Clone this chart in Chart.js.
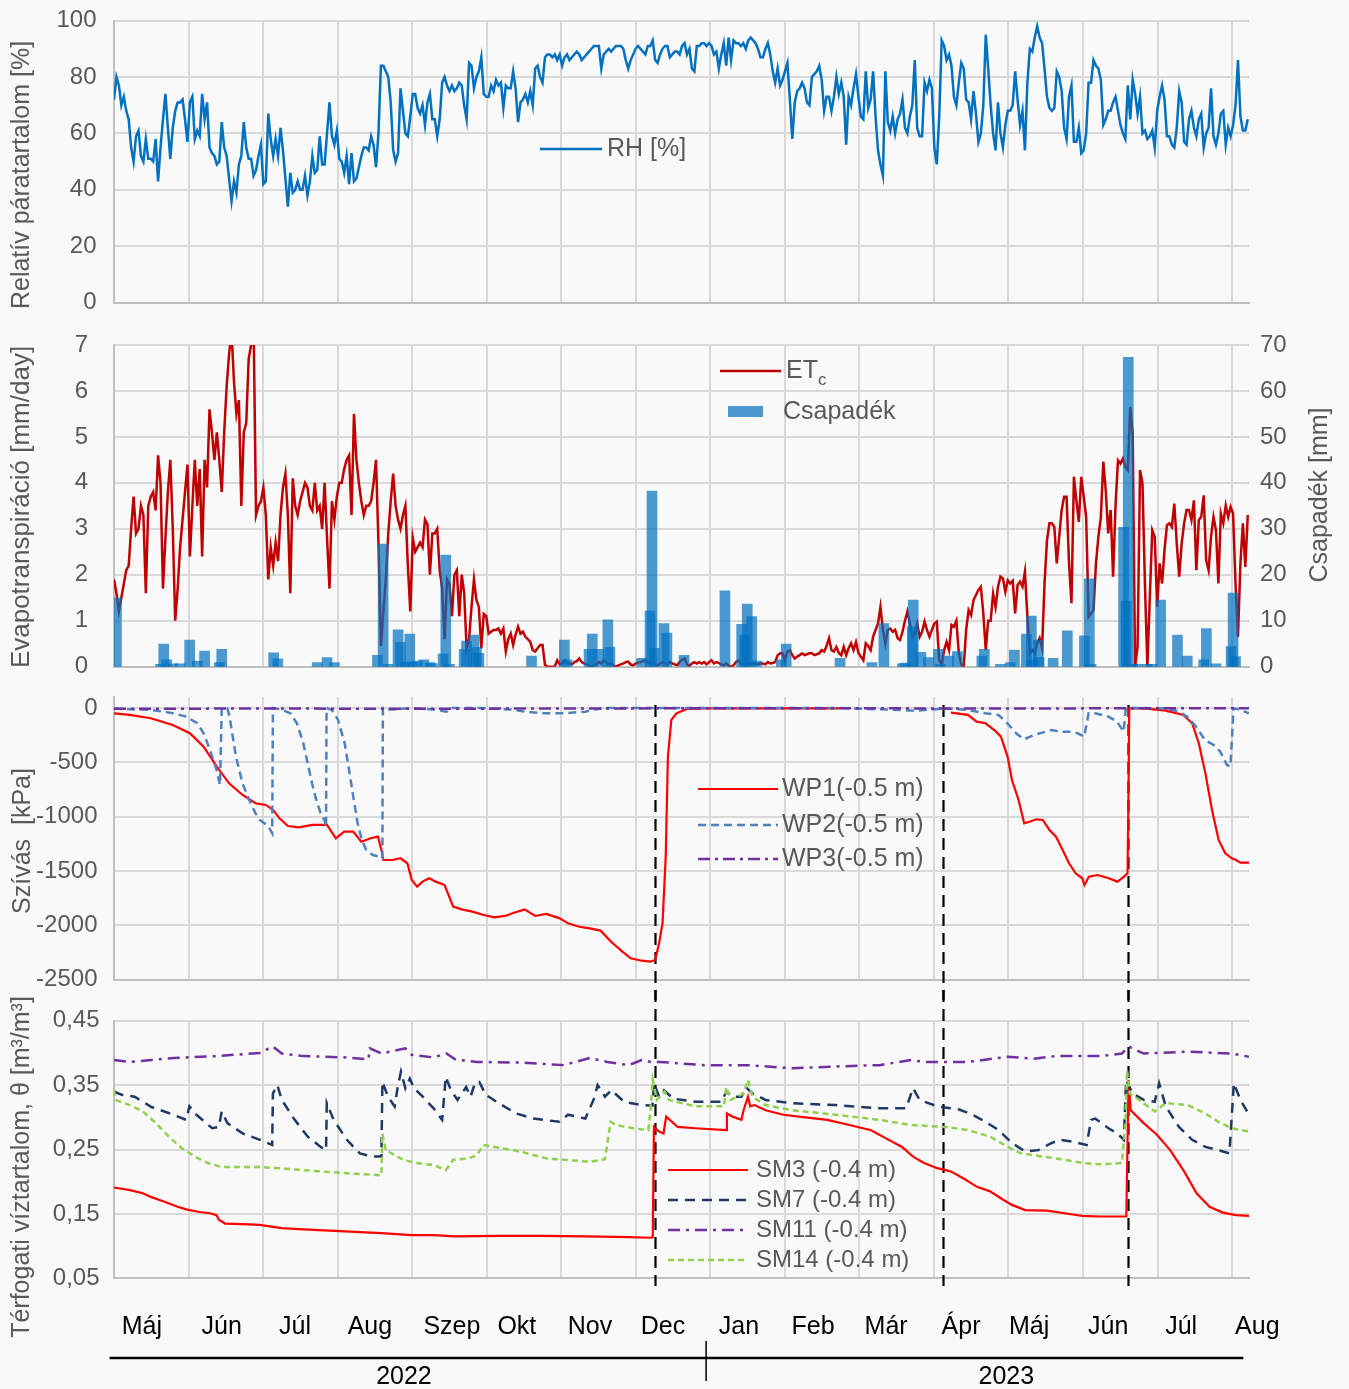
<!DOCTYPE html>
<html lang="hu">
<head>
<meta charset="utf-8">
<title>RH, ETc, szívás, víztartalom</title>
<script src="https://cdn.jsdelivr.net/npm/chart.js@4.4.1/dist/chart.umd.min.js"></script>
<style>
  html, body { margin: 0; padding: 0; background: #f9f9f9; }
  #wrap { position: relative; width: 1349px; height: 1389px; overflow: hidden; background: #f9f9f9; }
  #wrap canvas { position: absolute; left: 0; }
</style>
</head>
<body>
<div id="wrap">
  <canvas id="rhChart" width="1349" height="330" style="top:0px"></canvas>
  <canvas id="etChart" width="1349" height="370" style="top:320px"></canvas>
  <canvas id="wpChart" width="1349" height="330" style="top:670px"></canvas>
  <canvas id="smChart" width="1349" height="399" style="top:990px"></canvas>
</div>
<script>
// napi adatok 2022-05-01-tol (0. nap), az abrarol leolvasva

// relativ paratartalom [%], naponta
const rhValues = [
  72,80,77,70,73,68,65,55,50,59, 61,52,50,58,51,51,50,58,43,55,
  65,74,62,51,62,68,71,71,72,65, 57,71,73,58,61,59,74,65,71,55,
  53,52,49,50,64,55,52,44,36,43, 39,49,52,64,55,51,51,45,47,52,
  56,42,43,67,58,52,58,52,62,54, 44,34,46,39,40,43,40,40,45,38,
  43,52,46,47,59,49,49,60,71,59, 56,61,51,50,46,52,42,53,43,44,
  48,52,55,55,54,59,56,48,60,84, 84,82,80,71,54,50,53,76,68,60,
  59,66,74,74,69,67,70,63,71,74, 65,65,59,65,78,80,77,75,77,75,
  76,78,77,70,65,85,84,76,80,82, 87,74,73,73,77,75,79,77,78,69,
  77,76,76,82,76,64,71,72,74,71, 75,70,83,84,80,78,87,88,88,87,
  88,86,88,84,87,88,86,87,88,89, 88,86,87,88,89,90,91,91,91,83,
  88,89,90,89,90,91,91,91,90,86, 83,86,88,90,91,90,89,88,91,91,
  93,86,85,88,90,91,91,87,88,89, 89,88,91,92,88,90,83,82,91,91,
  92,92,91,92,91,88,89,83,88,92, 84,94,86,93,92,92,91,92,90,93,
  94,93,92,90,87,87,90,92,88,82, 78,83,77,79,82,85,72,58,71,75,
  76,78,76,71,70,80,81,82,84,79, 68,73,73,68,73,80,74,78,73,56,
  73,70,76,81,73,66,65,82,69,72, 82,66,54,49,45,82,64,61,66,60,
  65,67,72,62,60,66,70,86,62,59, 59,78,75,79,76,55,49,66,93,91,
  86,88,84,73,70,78,85,83,72,71, 65,75,67,57,60,70,95,83,70,60,
  54,71,60,55,63,68,68,70,82,72, 63,68,54,78,90,89,94,98,94,92,
  83,73,69,68,69,82,80,75,62,58, 73,77,57,57,62,53,54,60,78,78,
  86,84,83,79,63,65,68,68,71,73, 68,63,60,58,77,65,79,74,67,73,
  60,61,58,59,61,55,68,73,77,72, 59,59,56,55,62,75,71,57,56,65,
  68,62,59,65,67,55,60,62,76,59, 56,60,67,68,56,62,59,63,70,86,
  66,61,61,65
];

// ETc [mm/day], naponta
const etcValues = [
  1.9,1.6,1.2,1.5,1.8,2.1,2.2,3.0,3.7,2.9, 3.0,3.5,3.3,1.6,3.5,3.7,3.8,3.4,4.6,4.0,
  1.7,2.8,3.8,4.5,3.0,1.0,1.7,2.6,3.2,3.8, 4.4,2.4,3.5,4.5,3.5,4.3,2.4,4.5,3.9,5.6,
  5.1,4.5,5.1,4.5,3.8,5.1,6.1,6.8,7.3,6.2, 5.5,5.8,3.5,5.1,5.3,6.7,7.0,7.5,3.3,3.5,
  3.6,3.9,3.3,1.9,2.6,2.2,2.7,2.3,3.3,3.9, 4.2,3.3,1.6,4.1,3.5,3.3,3.6,3.8,4.0,3.9,
  3.5,3.4,4.0,3.4,3.5,3.0,4.0,2.8,1.7,3.6, 3.2,3.7,4.0,4.0,4.3,4.5,4.6,3.3,5.5,4.5,
  4.0,3.6,3.3,3.5,3.5,3.6,4.0,4.5,2.7,0.45, 1.2,1.9,2.9,3.6,4.2,3.5,3.2,3.0,3.3,3.5,
  2.2,1.2,2.8,2.5,2.6,2.7,2.6,3.2,3.1,2.0, 2.9,2.9,3.0,2.1,1.7,0.6,1.9,1.8,1.1,2.0,
  2.1,1.1,2.0,1.6,0.4,0.6,1.3,1.9,1.45,1.3, 0.4,1.15,1.1,0.72,0.76,0.8,0.8,0.83,0.72,0.83,
  0.33,0.6,0.72,0.47,0.7,0.87,0.72,0.76,0.65,0.6, 0.54,0.36,0.33,0.4,0.47,0.47,0.04,0,0,0,
  0,0.14,0.05,0.07,0.14,0.1,0.07,0.05,0.1,0.12, 0.18,0.1,0.07,0.05,0.02,0,0.03,0.05,0.1,0.07,
  0.14,0.1,0.05,0.07,0.02,0,0.03,0.05,0.07,0.1, 0.11,0.05,0.03,0.07,0.09,0.1,0.12,0.14,0.1,0.07,
  0.1,0.05,0.03,0.07,0.1,0.07,0.05,0.1,0.07,0.05, 0.03,0.1,0.15,0.18,0.05,0.02,0.07,0.1,0.07,0.1,
  0.07,0.1,0.05,0.1,0.14,0.07,0.1,0.08,0.05,0.03, 0.07,0.02,0,0.03,0.1,0.14,0.07,0.05,0.03,0.07,
  0.05,0.07,0.07,0.05,0.07,0.07,0.05,0.1,0.07,0.08, 0.1,0.25,0.29,0.29,0.14,0.33,0.36,0.25,0.18,0.22,
  0.25,0.29,0.25,0.27,0.29,0.29,0.25,0.27,0.29,0.36, 0.33,0.45,0.62,0.36,0.33,0.43,0.3,0.25,0.43,0.25,
  0.4,0.51,0.36,0.54,0.3,0.22,0.14,0.51,0.45,0.36, 0.65,0.8,0.94,1.3,0.8,0.5,0.8,0.83,0.76,0.8,
  0.62,0.58,0.76,1.0,1.2,0.94,0.65,0.72,0.94,0.65, 0.76,0.98,0.8,0.65,0.8,0.94,0.98,0.14,0.05,0.36,
  0.54,0.36,0.91,0.87,1.0,0.29,0.04,0,0.8,1.23, 1.12,1.45,1.56,1.67,1.74,1.16,0.36,1.0,1.0,1.59,
  1.3,1.74,1.96,1.92,1.63,1.88,1.81,1.87,1.16,1.78, 1.85,1.74,2.07,1.09,0.29,0.36,0.29,0.51,0.62,0.4,
  1.81,2.75,3.12,3.12,3.04,2.25,2.83,3.41,3.7,3.7, 2.25,1.38,4.13,3.62,3.15,4.13,3.7,3.26,1.09,1.16,
  1.23,2.25,2.83,3.26,4.46,3.84,2.9,3.41,1.96,3.51, 4.49,4.42,4.53,4.35,4.28,5.65,5.07,0,0.43,4.28,
  3.99,1.81,0,1.52,2.97,2.83,1.3,2.25,1.81,2.54, 3.08,3.12,3.04,3.55,2.68,1.96,2.68,3.12,3.41,3.41,
  3.19,3.62,2.1,3.19,3.26,3.73,2.32,2.1,2.83,3.26, 2.97,1.81,3.33,3.12,3.51,3.26,3.48,3.33,1.81,0.65,
  2.25,3.12,2.17,3.3
];

// csapadek [mm]: nap es mennyiseg
const rainDays = [1,19,20.3,21.5,24,27,30.9,34,37,43,44,65.2,66.9,83,87,90,107.6,109.9,112,116,117,119,120.8,122,124,126.5,129,130,
  134.4,135.5,137,143,144,147,148,149,170.5,183.9,185,194,195.3,198,201.7,202.5,215.5,218.9,219.7,220.7,224.6,225.8,232.8,
  249.5,256.3,257.5,258.6,260.4,262.5,272.5,274.5,296.5,309.5,314.4,322,323,326,326.4,329.5,332.6,336.7,337.5,340.8,344.4,
  354.4,355.4,362,366,367.7,372.6,374.6,375,377.5,377.8,383.5,389.3,396.3,398.3,399,412.3,413.3,414.2,416,418,422,424,
  427.4,434.3,438.3,445,446.1,450,456.2,457,458];
const rainMm = [15,0.5,4.9,1.5,0.6,0.6,5.8,1.2,3.4,0.9,3.8,3.0,1.7,0.9,2.0,0.9,2.5,26.7,0.5,8.0,5.3,1.0,7.1,1.0,1.2,1.5,0.9,0.7,
  2.8,24.3,0.5,3.8,5.6,6.9,4.2,2.9,2.3,5.8,1.5,3.8,7.1,3.8,10.2,4.2,1.8,12.1,38.2,4.0,9.4,7.3,2.5,
  16.5,9.2,6.9,13.6,10.9,1.2,1.5,4.9,1.8,0.9,9.4,0.6,0.8,8.7,14.5,3.1,2.0,3.8,0.5,2.3,3.3,
  2.3,3.8,0.5,0.9,3.6,7.1,11.0,1.5,5.8,2.0,1.8,7.8,6.7,19.1,0.5,30.3,14.3,67.3,0.5,0.5,0.5,0.5,
  14.5,6.9,2.3,1.5,8.3,0.6,4.4,16.0,2.2];

// szivas [kPa]
const wp1Days = [0,6.5,15,24,31,36.6,42,47,52.5,58,62,65,67.6,71,75.5,81,87,90.6,94,97.7,101,104.8,107.8,109.2,110,113.7,117,119.8,
  121.6,123.8,126,128.7,131.4,135,138.5,142,146.4,151,155.3,159.7,163.3,167.7,172,176.6,182,185.4,190,194.3,198.7,203,207.6,211,
  215.5,219,221,222.6,224,225.3,226.2,227.6,229.7,234,241,296,320,341.8,348.7,352.3,355.9,359.5,362.2,364.9,366.7,369.4,371.7,
  373.9,376.6,379.3,382,384.7,387.4,390,392.7,395.4,396.3,398.1,401.7,406.2,409.8,412.5,413.9,414.3,414.6,420.5,429.5,436.7,
  440.3,443,445.7,448.4,451.1,453.8,456.5,458.2,460,463.5];
const wp1Kpa = [-49,-64,-95,-157,-233,-356,-540,-694,-801,-878,-893,-939,-1016,-1087,-1099,-1077,-1077,-1200,-1139,-1139,-1231,-1200,-1185,-1308,-1400,-1400,-1384,-1430,
  -1584,-1645,-1599,-1568,-1599,-1630,-1829,-1854,-1875,-1906,-1928,-1915,-1885,-1854,-1915,-1897,-1937,-1983,-2014,-2029,-2050,-2152,-2244,-2305,
  -2327,-2336,-2320,-2167,-1983,-1369,-448,-110,-49,-9,-3,-3,null,-43,-64,-126,-141,-203,-264,-448,-663,-847,-1062,
  -1047,-1025,-1031,-1123,-1185,-1308,-1430,-1522,-1568,-1630,-1553,-1538,-1568,-1599,-1553,-1522,-760,-3,-3,-25,-64,
  -141,-325,-602,-939,-1215,-1338,-1384,-1400,-1424,-1424];
const wp2Days = [0,6.5,15.3,24.2,29.5,34,36.6,39.2,41.9,43.3,44,46.3,47.2,49.8,52.5,55.2,57.8,59.6,61.4,63.1,64.6,64.9,68.5,72,74.7,77.3,
  79.1,80.9,82.6,84.4,86.2,86.6,86.8,88.9,91.5,94.2,96,97.7,99.5,101.2,103,105.7,108.3,109.6,109.8,112.8,121.6,130.5,135.8,137.6,
  148.2,162.4,167.7,174.8,183.7,192.5,196,201.4,296,316,326.9,333.6,340.6,348.6,355.8,361.2,364.8,368.4,371.6,375.6,379.2,
  382.8,386.3,389.9,393.5,396.2,398,400.7,406.1,409.6,412.3,413.2,420.4,429.4,434.7,438.3,441.9,445.5,449.1,451.8,454.5,
  455.9,457.2,459.9,463.5];
const wp2Kpa = [-5,-12,-18,-49,-80,-141,-233,-387,-571,-709,0,-5,-80,-448,-694,-847,-970,-1031,-1062,-1093,-1154,0,-15,-49,-141,-325,
  -510,-694,-847,-970,-1047,-1100,0,-18,-110,-325,-571,-816,-1062,-1215,-1308,-1354,-1369,-1384,0,-15,0,-15,-34,0,
  0,-15,-34,-49,-49,-34,-15,0,0,-15,-25,-15,-5,-18,-49,-64,-141,-233,-289,-249,-227,
  -203,-218,-218,-233,-264,-49,-49,-80,-126,-218,0,0,-6,-31,-80,-172,-295,-341,-402,-525,
  -540,-3,-15,-49];
const wp3Days = [0,60,120,180,240,300,360,420,463.5];
const wp3Kpa = [-8,-5,-8,-5,-3,-3,-5,-3,-3];

// terfogati viztartalom [m3/m3]
const sm3Days = [0,6.5,11.8,15.3,20.6,26,29.5,34.8,39.2,41.9,42.8,45.4,52.5,59.6,68.5,77.3,87.9,98.6,109.2,121.6,130.5,139.3,157,
  174.8,192.5,210.2,219.1,220,220.5,222.6,224.4,225.5,227.9,230.2,237.4,250,250.3,252.6,256.2,257.1,258.9,259.8,261.6,266.1,
  273.3,282.3,291.3,300.3,309.2,316.4,321.8,326.3,330.8,336.2,341.6,347,352.4,357.8,363.1,366.7,372.1,381.1,388.2,395.4,
  402.6,413.4,414.3,415.2,420.5,425.9,431.3,436.7,442.1,447.4,452.8,458.2,463.5];
const sm3Vals = [0.191,0.187,0.182,0.176,0.169,0.161,0.157,0.153,0.151,0.148,0.141,0.135,0.134,0.133,0.128,0.126,0.124,0.122,0.12,0.117,0.117,0.115,0.116,
  0.116,0.115,0.114,0.113,0.114,0.285,0.278,0.275,0.301,0.293,0.285,0.283,0.28,0.306,0.301,0.296,0.311,0.332,0.317,0.319,0.311,
  0.304,0.3,0.296,0.288,0.28,0.265,0.254,0.239,0.229,0.221,0.216,0.205,0.192,0.185,0.172,0.164,0.156,0.155,0.151,0.147,
  0.146,0.146,0.358,0.311,0.291,0.273,0.249,0.218,0.182,0.161,0.152,0.148,0.147];
const sm7Days = [0,3.1,8.4,15.3,24.2,29.5,30.8,33,40.1,42.8,44,46.3,52.5,59.6,64.6,64.9,66.7,68.5,73.8,79.1,84.4,86.6,86.9,89.7,95.1,
  100.4,105.7,109.2,109.6,111.9,114.6,116,117.2,119,120.8,122.5,126.1,130.5,134,135.5,137.6,140.3,143.8,145.6,147.4,149.2,151.8,
  157.1,164.2,171.3,181.9,185.4,192.5,196,197.5,200.5,203.1,208.4,215.5,219.9,220.5,222.6,224.6,228.4,237.4,248.2,250,252.6,
  256.2,258,260.7,266.1,276.8,294.8,312.7,323.5,326.3,329,336.2,345.2,350.5,355.9,361.3,366.7,372.1,377.4,382.8,386.4,391.8,
  397.2,399,400.7,406.1,409.7,412.4,413.3,416,420.5,425,426.8,429.5,434.9,440.3,445.7,451,455.5,457.3,460,463.5];
const sm7Vals = [0.34,0.335,0.332,0.316,0.304,0.296,0.317,0.306,0.283,0.285,0.309,0.291,0.275,0.265,0.257,0.337,0.35,0.327,0.296,0.27,0.254,0.249,0.322,0.296,0.265,
  0.244,0.239,0.239,0.355,0.332,0.317,0.35,0.371,0.345,0.36,0.345,0.332,0.314,0.296,0.363,0.342,0.327,0.347,0.332,0.353,0.355,0.335,
  0.322,0.306,0.298,0.293,0.304,0.298,0.329,0.35,0.332,0.342,0.324,0.319,0.318,0.353,0.332,0.342,0.329,0.324,0.324,0.34,0.332,
  0.332,0.347,0.337,0.327,0.322,0.319,0.314,0.314,0.345,0.327,0.317,0.312,0.304,0.293,0.28,0.26,0.247,0.249,0.26,0.265,0.262,
  0.257,0.296,0.298,0.283,0.275,0.265,0.358,0.337,0.327,0.324,0.353,0.317,0.285,0.265,0.254,0.249,0.244,0.353,0.327,0.304];
const sm11Days = [0,6.5,15.3,24.2,29.5,41.9,59.6,64.9,68.5,77.3,95.1,103.9,104.5,109.2,119,121.6,130.5,135.8,139.3,148.2,165.9,183.7,
  194.3,201.4,210.2,215.5,219.1,223,241,259,277,295,312.7,325.4,330.8,339.8,348.8,365,375.6,384.6,402.6,411.6,414.3,420.5,
  438.5,456.5,463.5];
const sm11Vals = [0.389,0.386,0.389,0.392,0.393,0.395,0.4,0.41,0.399,0.395,0.393,0.39,0.407,0.399,0.407,0.397,0.393,0.399,0.39,0.386,0.385,0.381,
  0.392,0.386,0.381,0.389,0.386,0.386,0.381,0.381,0.376,0.379,0.381,0.389,0.386,0.386,0.386,0.394,0.391,0.395,0.395,0.399,0.41,0.399,
  0.402,0.399,0.394];
const sm14Days = [0,0.5,6.5,11.8,17.1,22.4,27.7,33,38.3,43.7,59.6,77.3,95.1,109.2,109.6,111,118.1,123.4,130.5,135.5,138.5,144.7,148.2,
  150.8,155.3,165.9,176.6,183.7,194.3,200.5,202.8,204.9,212,218.2,219.1,220,221.7,224.8,226.6,237.4,249.1,250,251.8,257.1,
  258.9,260.7,266.1,276.8,294.8,312.7,325.4,339.8,348.8,357.8,365,370.4,379.4,388.3,395.5,402.6,411.6,413,413.7,414.8,
  418.7,425,429.5,438.5,445.7,451,456.4,463.5];
const sm14Vals = [0.342,0.327,0.319,0.309,0.291,0.27,0.252,0.239,0.229,0.223,0.223,0.218,0.213,0.21,0.275,0.249,0.234,0.229,0.226,0.218,0.234,0.236,0.241,
  0.257,0.254,0.247,0.236,0.234,0.231,0.235,0.293,0.288,0.283,0.28,0.311,0.358,0.327,0.34,0.327,0.317,0.317,0.347,0.327,0.337,
  0.358,0.332,0.319,0.311,0.304,0.296,0.288,0.285,0.28,0.27,0.254,0.244,0.239,0.234,0.229,0.227,0.229,0.291,0.373,0.337,
  0.327,0.309,0.322,0.319,0.306,0.293,0.283,0.278];

// szaggatott fuggoleges vonalak (napok)
const eventDays = [221, 338.7, 414.2];

// tengelyfeliratok
const rhTicks = [0, 20, 40, 60, 80, 100];
const etTicks = [0, 1, 2, 3, 4, 5, 6, 7];
const rainTicks = [0, 10, 20, 30, 40, 50, 60, 70];
const wpTicks = [-2500, -2000, -1500, -1000, -500, 0];
const smTicks = [0.05, 0.15, 0.25, 0.35, 0.45];
const monthLabels = ['Máj','Jún','Júl','Aug','Szep','Okt','Nov','Dec','Jan','Feb','Már','Ápr','Máj','Jún','Júl','Aug'];
const monthLabelDays = [11.4,44,73.9,104.5,138,164.5,194.4,224.2,255.2,285.5,315.3,345.9,373.7,406,435.8,466.9];
const yearLabels = ['2022', '2023'];

// ---------- megjelenes ----------
const FONT = '"Liberation Sans", Arial, Helvetica, sans-serif';
const GRID = '#d9d9d9';
const AXIS = '#bfbfbf';
const TEXT = '#595959';
Chart.defaults.font.family = FONT;
Chart.defaults.color = TEXT;

const X_MAX = 463.5;
const MONTH_DAYS = 30.44;
const monthGrid = [];
for (let k = 0; k <= 15; k++) monthGrid.push(k * MONTH_DAYS);

const styles = {
  rh:   { color: '#0070c0', width: 2.5 },
  etc:  { color: '#c00000', width: 2.5 },
  wp1:  { color: '#ff0000', width: 2.2 },
  wp2:  { color: '#4f81bd', width: 2.5, dash: [8, 5] },
  wp3:  { color: '#7030a0', width: 2.5, dash: [12, 5, 3, 5] },
  sm3:  { color: '#ff0000', width: 2.2 },
  sm7:  { color: '#1f3864', width: 2.5, dash: [10, 7] },
  sm11: { color: '#7030a0', width: 2.5, dash: [12, 6, 3, 6] },
  sm14: { color: '#92d050', width: 2.5, dash: [6, 4] }
};
const RAIN_COLOR = 'rgba(0,112,192,0.7)';

function daily(vals) { return vals.map((v, i) => ({ x: i, y: v })); }
function pairs(days, vals) { return days.map((d, i) => ({ x: d, y: vals[i] })); }

function lineSet(label, data, st, order, axis) {
  return {
    type: 'line', label: label, data: data, yAxisID: axis || 'y',
    borderColor: st.color, borderWidth: st.width, borderDash: st.dash || [],
    pointRadius: 0, tension: 0, fill: false, spanGaps: false, order: order
  };
}

function xAxis(bottomSpace) {
  return {
    type: 'linear', min: 0, max: X_MAX, offset: false,
    afterBuildTicks: s => { s.ticks = monthGrid.map(v => ({ value: v })); },
    afterFit: s => { s.height = bottomSpace; },
    ticks: { display: false },
    grid: { color: GRID, lineWidth: 2, drawTicks: false, offset: false },
    border: { color: AXIS, width: 2 }
  };
}

// a cimke-tavolsagot atlatszo tick-vonal adja, igy nem no a rajzterulet belso margoja
function yAxis(min, max, ticks, fmt, gap) {
  return {
    type: 'linear', position: 'left', min: min, max: max,
    afterBuildTicks: s => { s.ticks = ticks.map(v => ({ value: v })); },
    afterFit: s => { s.width = 114; },
    ticks: { font: { size: 24 }, color: TEXT, padding: 0, callback: v => fmt(v) },
    grid: { color: GRID, lineWidth: 2, drawTicks: true, tickLength: gap, tickColor: 'rgba(0,0,0,0)' },
    border: { color: AXIS, width: 2 }
  };
}

function vTitle(ctx, text, x, y, size) {
  ctx.save();
  ctx.translate(x, y);
  ctx.rotate(-Math.PI / 2);
  ctx.font = size + 'px ' + FONT;
  ctx.fillStyle = TEXT;
  ctx.textAlign = 'center';
  ctx.textBaseline = 'middle';
  ctx.fillText(text, 0, 0);
  ctx.restore();
}

function legendLine(ctx, x1, x2, y, st, label, tx, size) {
  ctx.save();
  ctx.strokeStyle = st.color;
  ctx.lineWidth = st.width;
  ctx.setLineDash(st.dash || []);
  ctx.beginPath(); ctx.moveTo(x1, y); ctx.lineTo(x2, y); ctx.stroke();
  ctx.setLineDash([]);
  ctx.font = size + 'px ' + FONT;
  ctx.fillStyle = TEXT;
  ctx.textAlign = 'left';
  ctx.textBaseline = 'middle';
  ctx.fillText(label, tx, y);
  ctx.restore();
}

function eventLines(chart, y1, y2, dashOffset) {
  const ctx = chart.ctx, xs = chart.scales.x;
  ctx.save();
  ctx.strokeStyle = '#000';
  ctx.lineWidth = 2.2;
  ctx.setLineDash([12, 7]);
  ctx.lineDashOffset = dashOffset;
  eventDays.forEach(d => {
    const x = Math.round(xs.getPixelForValue(d)) + 0.5;
    ctx.beginPath(); ctx.moveTo(x, y1); ctx.lineTo(x, y2); ctx.stroke();
  });
  ctx.restore();
}

const baseOptions = (padTop, padRight) => ({
  responsive: false, animation: false, events: [],
  layout: { padding: { top: padTop, right: padRight, left: 0, bottom: 0 } },
  plugins: { legend: { display: false }, tooltip: { enabled: false } }
});

// ---------- 1. RH ----------
new Chart(document.getElementById('rhChart'), {
  type: 'line',
  data: { datasets: [lineSet('RH [%]', daily(rhValues), styles.rh, 0)] },
  options: Object.assign(baseOptions(20.6, 100), {
    scales: { x: xAxis(27.4), y: yAxis(0, 100, rhTicks, v => String(v), 17.5) }
  }),
  plugins: [{
    id: 'rhDeco',
    afterDraw(chart) {
      const ctx = chart.ctx;
      vTitle(ctx, 'Relatív páratartalom [%]', 22, 175, 25);
      legendLine(ctx, 540, 602, 149, styles.rh, 'RH [%]', 607, 25);
    }
  }]
});

// ---------- 2. ETc + csapadek ----------
const T2 = 320;
new Chart(document.getElementById('etChart'), {
  type: 'line',
  data: {
    datasets: [
      {
        type: 'bar', label: 'Csapadék', data: pairs(rainDays, rainMm), yAxisID: 'y2',
        backgroundColor: RAIN_COLOR, borderWidth: 0, barThickness: 10, order: 0
      },
      lineSet('ETc', daily(etcValues), styles.etc, 1)
    ]
  },
  options: Object.assign(baseOptions(345 - T2, 0), {
    scales: {
      x: xAxis(T2 + 370 - 666.7),
      y: yAxis(0, 7, etTicks, v => String(v), 26),
      y2: {
        type: 'linear', position: 'right', min: 0, max: 70,
        afterBuildTicks: s => { s.ticks = rainTicks.map(v => ({ value: v })); },
        afterFit: s => { s.width = 100; },
        ticks: { font: { size: 24 }, color: TEXT, padding: 0, callback: v => String(v) },
        grid: { display: false, drawTicks: true, tickLength: 11, tickColor: 'rgba(0,0,0,0)' },
        border: { display: false }
      }
    }
  }),
  plugins: [{
    id: 'etDeco',
    afterDraw(chart) {
      const ctx = chart.ctx;
      vTitle(ctx, 'Evapotranspiráció [mm/day]', 22, 507 - T2, 26);
      vTitle(ctx, 'Csapadék [mm]', 1320, 495 - T2, 25);
      legendLine(ctx, 720, 781, 371 - T2, styles.etc, 'ET', 786, 25);
      ctx.save();
      ctx.font = '25px ' + FONT;
      const w = ctx.measureText('ET').width;
      ctx.font = '17px ' + FONT;
      ctx.fillStyle = TEXT;
      ctx.textBaseline = 'middle';
      ctx.fillText('c', 786 + w, 380 - T2);
      ctx.fillStyle = RAIN_COLOR;
      ctx.fillRect(728, 406 - T2, 35, 11);
      ctx.font = '25px ' + FONT;
      ctx.fillStyle = TEXT;
      ctx.fillText('Csapadék', 783, 412 - T2);
      ctx.restore();
    }
  }]
});

// ---------- 3. szivas ----------
const T3 = 670;
new Chart(document.getElementById('wpChart'), {
  type: 'line',
  data: {
    datasets: [
      lineSet('WP1(-0.5 m)', pairs(wp1Days, wp1Kpa), styles.wp1, 2),
      lineSet('WP2(-0.5 m)', pairs(wp2Days, wp2Kpa), styles.wp2, 1),
      lineSet('WP3(-0.5 m)', pairs(wp3Days, wp3Kpa), styles.wp3, 0)
    ]
  },
  options: Object.assign(baseOptions(697.1 - T3, 100), {
    scales: { x: xAxis(T3 + 330 - 979.5), y: yAxis(-2500, 100, wpTicks, v => String(v), 16.5) }
  }),
  plugins: [{
    id: 'wpDeco',
    beforeDatasetsDraw(chart) { eventLines(chart, 705 - T3, 330, 0); },
    afterDraw(chart) {
      const ctx = chart.ctx;
      vTitle(ctx, 'Szívás  [kPa]', 23, 841 - T3, 25);
      legendLine(ctx, 698, 778, 789 - T3, styles.wp1, 'WP1(-0.5 m)', 782, 25);
      legendLine(ctx, 698, 778, 825 - T3, styles.wp2, 'WP2(-0.5 m)', 782, 25);
      legendLine(ctx, 698, 778, 859 - T3, styles.wp3, 'WP3(-0.5 m)', 782, 25);
    }
  }]
});

// ---------- 4. viztartalom ----------
const T4 = 990;
new Chart(document.getElementById('smChart'), {
  type: 'line',
  data: {
    datasets: [
      lineSet('SM3 (-0.4 m)', pairs(sm3Days, sm3Vals), styles.sm3, 3),
      lineSet('SM7 (-0.4 m)', pairs(sm7Days, sm7Vals), styles.sm7, 2),
      lineSet('SM11 (-0.4 m)', pairs(sm11Days, sm11Vals), styles.sm11, 1),
      lineSet('SM14 (-0.4 m)', pairs(sm14Days, sm14Vals), styles.sm14, 0)
    ]
  },
  options: Object.assign(baseOptions(1020.7 - T4, 100), {
    scales: {
      x: xAxis(T4 + 399 - 1278.3),
      y: yAxis(0.05, 0.45, smTicks, v => v.toFixed(2).replace('.', ','), 14.5)
    }
  }),
  plugins: [{
    id: 'smDeco',
    beforeDatasetsDraw(chart) { eventLines(chart, 0, 1286 - T4, (T4 - 705) % 19); },
    afterDraw(chart) {
      const ctx = chart.ctx, xs = chart.scales.x;
      vTitle(ctx, 'Térfogati víztartalom, θ [m³/m³]', 22, 1167 - T4, 25);
      legendLine(ctx, 668, 748, 1170 - T4, styles.sm3, 'SM3 (-0.4 m)', 756, 24);
      legendLine(ctx, 668, 748, 1200 - T4, styles.sm7, 'SM7 (-0.4 m)', 756, 24);
      legendLine(ctx, 668, 748, 1230 - T4, styles.sm11, 'SM11 (-0.4 m)', 756, 24);
      legendLine(ctx, 668, 748, 1260 - T4, styles.sm14, 'SM14 (-0.4 m)', 756, 24);

      // honap- es evfeliratok
      ctx.save();
      ctx.fillStyle = '#000';
      ctx.font = '25px ' + FONT;
      ctx.textAlign = 'center';
      ctx.textBaseline = 'middle';
      monthLabels.forEach((m, i) => ctx.fillText(m, xs.getPixelForValue(monthLabelDays[i]), 1327 - T4));
      ctx.strokeStyle = '#000';
      ctx.lineWidth = 2.5;
      ctx.beginPath();
      ctx.moveTo(xs.getPixelForValue(-1.8), 1358 - T4);
      ctx.lineTo(xs.getPixelForValue(461.2), 1358 - T4);
      ctx.stroke();
      ctx.lineWidth = 1.5;
      const xb = xs.getPixelForValue(241.8);
      ctx.beginPath(); ctx.moveTo(xb, 1341 - T4); ctx.lineTo(xb, 1381 - T4); ctx.stroke();
      ctx.fillText(yearLabels[0], xs.getPixelForValue(118.4), 1377 - T4);
      ctx.fillText(yearLabels[1], xs.getPixelForValue(364.4), 1377 - T4);
      ctx.restore();
    }
  }]
});
</script>
</body>
</html>
